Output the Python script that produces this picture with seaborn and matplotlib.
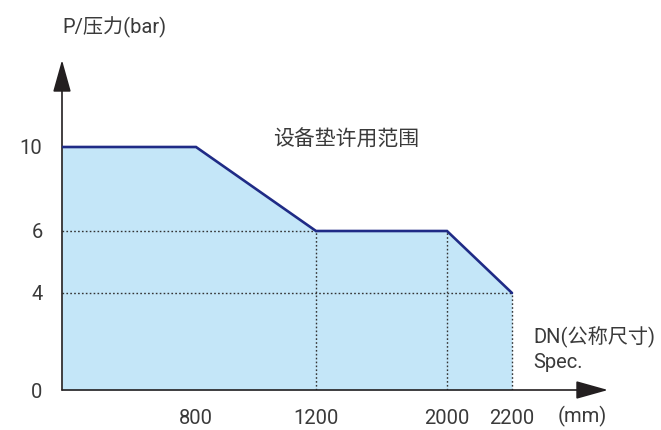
import numpy as np
import pandas as pd
import matplotlib
matplotlib.use("Agg")
import matplotlib.pyplot as plt
import seaborn as sns

# pressure envelope (DN mm -> bar)
dn = [0, 800, 1200, 2000, 2200]
pressure = [10, 10, 6, 6, 4]
x_ticks = [800, 1200, 2000, 2200]
y_ticks = [0, 4, 6, 10]

sns.set_theme(style="white")
plt.rcParams['font.family'] = ['Roboto', 'Noto Sans CJK SC', 'DejaVu Sans']

TXT = '#3a3a3a'
AX = '#231f20'
NAVY = '#1f2b86'
FILL = '#c4e6f8'


def piecewise(vals, pos):
    # axis in the picture is not linear, map values through knots
    vals = np.asarray(vals, float)
    pos = np.asarray(pos, float)

    def lin(v, a, b):
        v = np.asarray(v, float)
        out = np.interp(v, a, b)
        out = np.where(v < a[0], b[0] + (v - a[0]) * (b[1] - b[0]) / (a[1] - a[0]), out)
        out = np.where(v > a[-1], b[-1] + (v - a[-1]) * (b[-1] - b[-2]) / (a[-1] - a[-2]), out)
        return out
    return (lambda v: lin(v, vals, pos)), (lambda p: lin(p, pos, vals))


xfun = piecewise([0, 800, 1200, 2000, 2200], [0, 134, 254, 385, 450])
yfun = piecewise([0, 4, 6, 10], [0, 97, 159, 243])

df = pd.DataFrame({'DN': dn, 'P': pressure})

fig = plt.figure(figsize=(6.61, 4.30), dpi=100)
ax = fig.add_axes([62 / 661, 40 / 430, 546 / 661, 330 / 430])
ax.set_xscale('function', functions=xfun)
ax.set_yscale('function', functions=yfun)

ax.fill_between(df['DN'], df['P'], 0, color=FILL, lw=0, zorder=1)
sns.lineplot(data=df, x='DN', y='P', color=NAVY, lw=1.9, ax=ax, zorder=4,
             solid_joinstyle='miter')

dot = dict(color='#333333', lw=1.0, linestyle=(0, (1.2, 1.6)), zorder=3)
ax.hlines(pressure[2], dn[0], dn[2], **dot)
ax.hlines(pressure[4], dn[0], dn[4], **dot)
ax.vlines(dn[2], 0, pressure[2], **dot)
ax.vlines(dn[3], 0, pressure[3], **dot)
ax.vlines(dn[4], 0, pressure[4], **dot)

ax.set_xlim(0, float(xfun[1](546)))
ax.set_ylim(0, float(yfun[1](330)))

for s in ax.spines.values():
    s.set_visible(False)
arrow = dict(arrowstyle='-|>,head_length=1.0,head_width=0.28', color=AX, lw=1.2,
             mutation_scale=20, shrinkA=0, shrinkB=0)
ax.annotate('', xy=(1, 0), xytext=(0, 0), xycoords='axes fraction', arrowprops=arrow)
ax.annotate('', xy=(0, 1), xytext=(0, 0), xycoords='axes fraction', arrowprops=arrow)

ax.set_xticks(x_ticks)
ax.set_xticklabels([str(v) for v in x_ticks])
ax.set_yticks(y_ticks)
ax.set_yticklabels([str(v) for v in y_ticks])
ax.minorticks_off()
ax.tick_params(axis='both', direction='in', length=4, width=1, color=AX,
               labelsize=14.5, labelcolor=TXT, pad=14)
ax.set_xlabel('')
ax.set_ylabel('')

fig.text(62 / 661, 1 - 27 / 430, 'P/压力(bar)', fontsize=14.5, color=TXT, va='center', ha='left')
fig.text(346 / 661, 1 - 140 / 430, '设备垫许用范围', fontsize=15, color=TXT, va='center', ha='center')
fig.text(533 / 661, 1 - 337 / 430, 'DN(公称尺寸)', fontsize=14.5, color=TXT, va='center', ha='left')
fig.text(533 / 661, 1 - 363 / 430, 'Spec.', fontsize=14.5, color=TXT, va='center', ha='left')
fig.text(558 / 661, 1 - 416 / 430, '(mm)', fontsize=14.5, color=TXT, va='center', ha='left')

fig.savefig('out.png', dpi=100)
